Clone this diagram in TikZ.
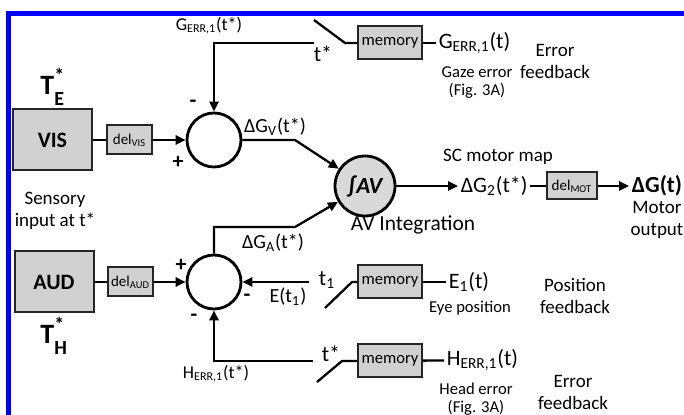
\documentclass[tikz,border=0pt]{standalone}
\usepackage{fontspec}
\setmainfont{Carlito}
\usetikzlibrary{arrows.meta,positioning}

\newcommand{\starred}[1]{T\rlap{\raisebox{0.42em}{\fontsize{10}{10}\selectfont*}}\raisebox{-0.42em}{\fontsize{10}{10}\selectfont #1}}

\begin{document}
\begin{tikzpicture}[
  x=0.5pt,
  y=-0.5pt,
  >={Triangle[length=5pt,width=4.6pt]},
  sensebox/.style={
    draw=black!85,
    fill=black!18,
    line width=1pt,
    minimum width=39.5pt,
    minimum height=30.5pt,
    inner sep=0pt,
    font=\fontsize{11}{13}\selectfont\bfseries
  },
  delaybox/.style={
    draw=black!85,
    fill=black!18,
    line width=1pt,
    minimum width=22.5pt,
    minimum height=14.5pt,
    inner sep=0pt,
    font=\fontsize{7.5}{9}\selectfont
  },
  memorybox/.style={
    draw=black!85,
    fill=black!18,
    line width=1pt,
    minimum width=32pt,
    minimum height=16.5pt,
    inner sep=0pt,
    font=\fontsize{8.3}{9}\selectfont
  },
  summer/.style={circle, draw=black, line width=1.4pt, minimum size=27pt, inner sep=0pt},
  integrator/.style={
    circle,
    draw=black,
    fill=black!15,
    line width=1.4pt,
    minimum size=30pt,
    inner sep=0pt,
    font=\fontsize{11.5}{13}\selectfont\bfseries\itshape
  },
  signal/.style={draw=black, line width=1.15pt},
  pmsign/.style={font=\fontsize{11}{12}\selectfont\bfseries, inner sep=0pt},
  signame/.style={font=\fontsize{10}{11}\selectfont, inner sep=1.2pt},
  bigname/.style={font=\fontsize{11}{12}\selectfont, inner sep=1.2pt},
  smallnote/.style={font=\fontsize{8.3}{9}\selectfont, align=center, inner sep=0pt},
  note/.style={font=\fontsize{9.5}{11}\selectfont, align=center, inner sep=0pt},
  bigsym/.style={font=\fontsize{14}{16}\selectfont\bfseries, inner sep=0pt},
  blueframe/.style={draw=blue, line width=2.5pt}
]

\useasboundingbox (0,0) rectangle (684,415);
\draw[blueframe] (684,13.5) -- (8.5,13.5) -- (8.5,415);

% sensory inputs and their delays
\node[sensebox] (vis) at (52.5,140) {VIS};
\node[sensebox] (aud) at (54,282) {AUD};
\node[bigsym, anchor=west] (te) at (40,87) {\starred{E}};
\node[bigsym, anchor=west] (th) at (40,336) {\starred{H}};
\node[note] (sensory) at (55,211) {Sensory\\input at t*};
\node[delaybox] (delvis) at (129.5,140) {del\textsubscript{VIS}};
\node[delaybox] (delaud) at (130.5,282) {del\textsubscript{AUD}};

% comparators and integration
\node[summer] (sumv) at (214,140) {};
\node[summer] (suma) at (214,282) {};
\node[integrator] (avint) at (365,186) {{\upshape∫}AV};
\node[font=\fontsize{10.7}{12}\selectfont, inner sep=0pt] (avlabel) at (413,225) {AV Integration};

\node[pmsign] (vminus) at (193,104) {-};
\node[pmsign] (vplus) at (178,162) {+};
\node[pmsign] (aplus) at (181,265) {+};
\node[pmsign] (aminusr) at (247,298) {-};
\node[pmsign] (aminusb) at (194,318) {-};

\draw[signal] (vis) -- (delvis);
\draw[signal,->] (delvis) -- (sumv);
\draw[signal] (aud) -- (delaud);
\draw[signal,->] (delaud) -- (suma);

\coordinate (vbend) at (295,140);
\coordinate (abend) at (295,227);
\draw[signal,->] (sumv.east) -- (vbend) -- (avint);
\draw[signal,->] (suma.north) |- (abend) -- (avint);
\node[signame] (dgv) at (275,127) {ΔG\textsubscript{V}(t*)};
\node[signame] (dga) at (273,243) {ΔG\textsubscript{A}(t*)};

% motor output
\node[note] (scmap) at (498,157) {SC motor map};
\node[bigname, anchor=west] (dgtwo) at (458,186) {ΔG\textsubscript{2}(t*)};
\node[delaybox, minimum width=25pt, minimum height=13.5pt] (delmot) at (572,186) {del\textsubscript{MOT}};
\node[font=\fontsize{11.5}{13}\selectfont\bfseries, inner sep=1.2pt, anchor=west] (dgout) at (629,186) {ΔG(t)};
\node[note] (motor) at (657,220) {Motor\\output};
\draw[signal,->] (avint) -- (dgtwo);
\draw[signal] (dgtwo) -- (delmot);
\draw[signal,->] (delmot) -- (dgout);

% gaze error feedback
\node[memorybox] (memg) at (390,43) {memory};
\coordinate (gcont) at (314,43);
\coordinate (ghinge) at (345,43);
\coordinate (gblade) at (314,20);
\draw[signal] (memg.west) -- (ghinge) -- (gblade);
\draw[signal,->] (gcont) -| (sumv.north);
\node[bigname] (gtstar) at (323,54) {t*};
\node[font=\fontsize{9}{10}\selectfont, inner sep=0pt] (gerrstar) at (209,26) {G\textsubscript{ERR,1}(t*)};
\node[bigname, anchor=west] (gerrt) at (436,43) {G\textsubscript{ERR,1}(t)};
\draw[signal] (memg) -- (gerrt);
\node[smallnote] (gazenote) at (477,83) {Gaze error\\(Fig. 3A)};
\node[note] (gfeed) at (555,61) {Error\\feedback};

% eye position feedback
\node[memorybox] (meme) at (390,282) {memory};
\coordinate (econt) at (309,282);
\coordinate (ehinge) at (352,282);
\coordinate (eblade) at (325,308);
\draw[signal] (meme.west) -- (ehinge) -- (eblade);
\draw[signal,->] (econt) -- (suma.east);
\node[bigname] (tone) at (327,280) {t\textsubscript{1}};
\node[signame] (etone) at (288,297) {E(t\textsubscript{1})};
\node[bigname, anchor=west] (eone) at (446,282) {E\textsubscript{1}(t)};
\draw[signal] (meme) -- (eone);
\node[smallnote] (eyenote) at (470,308) {Eye position};
\node[note] (efeed) at (575,296) {Position\\feedback};

% head error feedback
\node[memorybox] (memh) at (390,361) {memory};
\coordinate (hcont) at (313,361);
\coordinate (hhinge) at (342,361);
\coordinate (hblade) at (317,382);
\draw[signal] (memh.west) -- (hhinge) -- (hblade);
\draw[signal,->] (hcont) -| (suma.south);
\node[bigname] (htstar) at (331,354) {t*};
\node[font=\fontsize{9}{10}\selectfont, inner sep=0pt] (herrstar) at (216,374) {H\textsubscript{ERR,1}(t*)};
\node[bigname, anchor=west] (herrt) at (444,360) {H\textsubscript{ERR,1}(t)};
\draw[signal] (memh) -- (herrt);
\node[smallnote] (headnote) at (476,399) {Head error\\(Fig. 3A)};
\node[note] (hfeed) at (573,392) {Error\\feedback};

\end{tikzpicture}
\end{document}
